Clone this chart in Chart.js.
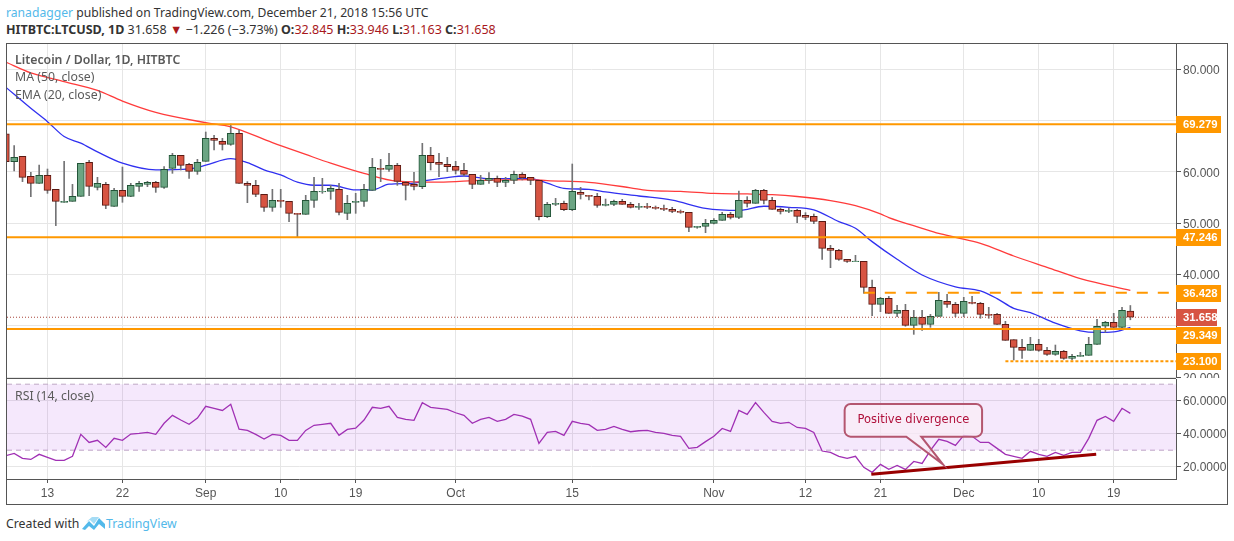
<!DOCTYPE html>
<html>
  <head>
    <meta charset="UTF-8" />
    <title>LTCUSD</title>
    <script src="https://cdn.jsdelivr.net/npm/chart.js"></script>
    <style type="text/css">
      html, body { margin:0; padding:0; background:#fff; width:1234px; height:541px; overflow:hidden; font-family:"Noto Sans",sans-serif; }
      .abs { position:absolute; white-space:nowrap; }
      #frame { position:absolute; left:6px; top:43px; width:1220px; height:460px; border:1px solid #555; }
      canvas { position:absolute; }
      #pricePane { left:7px; top:44px; }
      #rsiPane { left:7px; top:379px; }
      .legend { left:15px; font-size:12.3px; color:#5a5a5a; line-height:16px; }
      .blue { color:#53b9ea; }
      .red { color:#a8181c; }
    </style>
  </head>
  <body>
    <div id="frame"></div>
    <canvas id="pricePane"></canvas>
    <canvas id="rsiPane"></canvas>

    <div class="abs" style="left:6px;top:4px;font-size:12.17px;color:#333;line-height:17px"><span class="blue">ranadagger</span> published on TradingView.com, December 21, 2018 15:56 UTC</div>
    <div class="abs" style="left:6px;top:21px;font-size:12.5px;color:#333;line-height:17px"><b>HITBTC:LTCUSD, 1D</b> 31.658 <span class="red">&#9660;</span> &minus;1.226 (&minus;3.73%) <b>O:</b><span class="red">32.845</span> <b>H:</b><span class="red">33.946</span> <b>L:</b><span class="red">31.163</span> <b>C:</b><span class="red">31.658</span></div>
    <div class="abs legend" style="top:52px;font-weight:600">Litecoin / Dollar, 1D, HITBTC</div>
    <div class="abs legend" style="top:69px">MA (50, close)</div>
    <div class="abs legend" style="top:87px">EMA (20, close)</div>
    <div class="abs legend" style="top:388px">RSI (14, close)</div>
    <div class="abs" style="left:6px;top:515px;font-size:12.3px;color:#333;line-height:17px">Created with</div>
    <svg class="abs" style="left:82px;top:516px" width="24" height="15" viewBox="0 0 24 15">
      <path d="M0 13 L7 5 L12 10 L17 2 L23 8 L23 13 L17 8 L12 14 L7 10 L3 14 Z" fill="#53b9ea"/>
      <path d="M4 6 L10 1 L17 1 L12 8 L8 4 Z" fill="#a5dcf5"/>
    </svg>
    <div class="abs blue" style="left:106px;top:515px;font-size:12.3px;line-height:17px">TradingView</div>

    <script>
      // one entry per day, day 0 is Aug 8 2018
      var opens = [67.4,62.0,63.03,59.14,57.77,59.33,56.6,54.07,54.26,55.23,
        61.87,56.99,57.57,53.29,56.41,55.23,57.18,57.57,57.96,56.99,
        60.69,63.23,61.48,60.11,62.06,66.55,65.96,65.37,67.52,57.77,
        57.38,55.62,53.09,54.45,54.26,51.92,51.72,54.45,56.08,56.21,
        56.6,51.92,54.07,54.26,56.41,60.69,60.5,61.28,57.96,57.57,
        57.12,63.23,61.87,61.47,61.08,60.3,59.52,57.57,58.36,58.75,
        57.96,58.36,59.52,58.94,58.36,51.27,53.67,53.87,52.63,56.01,
        55.43,55.23,53.48,53.67,54.26,53.67,53.09,53.28,53.09,52.9,
        52.7,52.31,52.12,49.19,49.38,49.97,50.55,51.72,51.14,54.45,
        53.87,56.4,54.45,52.7,52.31,52.5,51.53,51.33,50.36,45.1,
        44.7,42.95,42.5,42.56,37.49,34.18,35.34,32.42,33.0,30.08,
        31.64,30.27,31.83,34.76,34.18,32.42,34.56,34.37,32.22,32.22,
        30.27,27.28,25.79,25.2,26.37,25.2,24.42,25.01,23.65,24.04,
        24.23,26.37,29.9,30.66,29.69,32.845];
      var closes = [62.0,62.84,58.94,57.77,59.33,56.41,54.26,54.26,55.23,61.67,
        57.18,57.77,53.48,56.41,55.23,57.38,57.77,57.96,56.99,60.5,
        63.23,61.28,60.11,61.87,66.55,66.16,65.37,67.52,57.77,57.38,
        55.62,53.09,54.45,54.26,51.92,51.72,54.45,56.21,56.21,56.8,
        52.12,53.87,54.26,56.6,60.89,60.5,61.28,58.16,57.38,57.18,
        63.23,61.8,61.47,61.02,60.3,59.52,57.57,58.36,58.75,57.96,
        58.36,59.52,58.81,58.36,51.27,53.67,53.87,52.63,56.21,55.62,
        55.23,53.48,53.67,54.26,53.67,53.09,53.28,53.09,52.9,52.7,
        52.31,52.12,49.19,49.38,49.97,50.55,51.72,51.14,54.45,53.87,
        56.4,54.45,52.7,52.31,52.5,51.33,51.14,50.36,45.1,44.7,
        42.95,42.56,42.6,37.49,34.18,35.34,32.42,33.0,30.08,31.64,
        30.27,31.83,34.95,34.18,32.42,34.76,34.37,32.22,32.03,30.27,
        27.15,25.79,25.2,26.37,25.2,24.42,25.01,23.65,24.04,24.23,
        26.37,29.9,30.66,29.69,33.0,31.658];
      var highs = [67.4,65.11,63.03,59.92,61.35,60.56,56.6,62.06,57.57,61.67,
        62.25,58.94,57.96,56.8,60.95,57.77,58.16,58.16,58.16,61.02,
        63.62,63.23,61.67,62.45,67.78,67.13,66.55,69.34,68.17,58.1,
        58.36,55.62,56.6,56.6,54.26,51.92,55.43,58.94,58.75,57.38,
        57.77,55.43,55.82,57.57,62.64,62.45,63.62,61.67,58.16,59.92,
        65.57,64.79,63.62,62.84,62.06,61.67,59.52,59.33,59.85,59.2,
        58.94,60.17,59.85,58.94,58.36,54.06,54.84,54.32,61.54,56.99,
        55.43,55.82,54.71,54.52,54.65,54.06,53.87,53.87,53.35,53.54,
        53.09,52.57,52.12,49.38,50.75,50.88,52.12,52.12,56.27,55.17,
        56.6,56.6,55.04,52.96,52.96,52.7,52.05,51.79,50.36,45.68,
        44.9,42.95,43.73,42.56,38.92,35.54,35.73,33.98,34.18,33.0,
        33.0,32.22,36.51,36.12,34.56,35.54,35.73,34.56,33.59,32.42,
        30.86,27.28,27.35,27.74,27.35,25.79,26.24,25.2,24.42,24.82,
        27.74,31.25,30.86,32.42,33.59,33.946];
      var lows = [62.0,60.18,58.1,55.17,57.77,55.82,49.52,54.07,54.26,55.23,
        55.36,56.47,52.83,53.29,54.07,55.17,56.21,57.12,56.01,56.8,
        59.72,60.37,58.75,59.52,62.06,64.27,64.27,65.18,57.77,54.0,
        55.17,52.31,52.31,53.09,50.3,47.3,51.72,53.09,55.82,54.65,
        51.6,50.69,51.92,53.29,56.41,58.1,60.11,57.38,54.52,56.47,
        56.73,60.37,59.07,60.05,59.59,59.2,56.73,57.57,57.77,57.12,
        57.12,57.7,58.42,57.51,50.62,51.08,53.42,52.44,52.44,54.71,
        54.52,53.09,53.35,53.42,53.67,52.96,52.7,52.83,52.7,52.44,
        52.05,51.92,48.35,49.0,48.15,49.84,50.55,50.82,50.88,53.15,
        53.87,53.74,52.7,51.79,52.05,50.1,50.68,49.9,42.95,41.32,
        42.75,42.36,42.5,36.32,31.96,32.74,32.42,31.77,29.9,28.32,
        29.1,29.69,31.83,33.59,31.77,31.77,34.24,31.45,31.45,30.27,
        27.15,23.32,23.65,25.2,25.01,24.23,24.23,23.45,23.32,24.04,
        24.23,26.37,28.71,29.69,29.4,31.163];

      // moving averages at these days
      var maDays = [0,3,7,11,14,18,24,27,32,36,39,43,47,52,57,63,65,70,75,77,81,85,89,92,95,99,102,105,106,110,112,114,117,121,125,129,135];
      var maValues = [81.4,79.3,77.6,75.9,73.8,71.6,69.6,68.8,65.7,63.4,61.7,59.7,58.2,58.0,58.36,58.5,58.3,57.96,56.9,56.4,56.2,55.8,55.7,55.56,55.2,54.4,53.4,51.8,51.1,49.0,48.0,47.24,46.07,43.6,41.4,39.2,36.9];
      var emaDays = [0,3,5,7,9,11,14,18,22,24,27,29,31,33,35,37,39,42,44,46,49,50,53,55,58,63,65,67,70,72,76,80,84,88,91,94,97,100,102,104,107,110,114,117,119,121,123,126,129,131,133,135];
      var emaValues = [76.5,72.4,69.8,66.9,65.6,63.9,61.7,60.4,60.6,61.3,62.6,61.8,60.4,59.4,58.0,57.4,57.4,56.5,56.5,57.6,57.8,58.2,58.9,59.2,58.7,58.7,57.8,56.8,56.6,56.1,55.3,54.5,52.9,52.5,53.3,53.1,52.6,50.3,49.0,46.4,42.95,39.9,37.6,36.8,35.3,33.4,32.55,30.5,29.0,28.7,28.8,29.7];

      var rsiValues = [26.7,28.1,25.1,24.4,27.5,25.7,23.8,23.8,26.3,39.6,
        34.7,36.0,31.7,37.2,36.0,39.8,40.2,40.8,39.6,46.3,
        51.1,48.3,45.7,49.5,56.6,55.4,54.1,57.8,42.8,42.0,
        39.6,36.8,39.6,39.0,36.0,36.0,42.0,45.1,45.7,46.3,
        39.0,42.6,43.4,48.3,56.0,55.4,56.6,49.9,48.7,48.1,
        58.8,56.0,55.4,54.7,52.7,51.1,46.3,48.7,49.9,47.5,
        48.7,51.7,50.7,48.7,34.1,40.8,41.4,39.0,47.5,46.3,
        45.5,42.0,42.6,44.4,42.6,41.2,41.8,42.0,40.8,40.2,
        39.0,38.4,31.1,31.7,35.2,38.4,43.2,41.4,54.1,51.7,
        58.8,52.9,47.5,46.3,46.9,43.8,43.2,40.8,29.5,28.7,
        26.3,25.1,26.3,19.6,16.6,21.4,18.4,20.8,18.4,23.2,
        22.0,29.9,36.6,35.4,32.9,39.0,38.4,34.7,34.7,31.1,
        27.5,26.3,25.1,29.3,27.5,26.3,28.7,26.9,28.7,28.7,
        37.2,48.1,50.5,47.5,55.4,52.3];

      var tickDays = [5,14,24,33,42,54,68,85,96,105,115,124,133];
      var tickLabels = ["13","22","Sep","10","19","Oct","15","Nov","12","21","Dec","10","19"];
      var priceTicks = [80,70,60,50,40,30,20];
      var priceTickLabels = ["80.000","","60.000","50.000","40.000","","20.000"];
      var rsiTicks = [60,40,20];
      var rsiTickLabels = ["60.0000","40.0000","20.0000"];

      var lastPrice = 31.658;
      var resistanceTop = 69.279, supportMid = 47.246, dashedLevel = 36.428, supportLow = 29.349, dottedLevel = 23.1;
      var dashedFromDay = 103, dottedFromDay = 120;
      var rsiUpper = 70, rsiLower = 30;
      var trendDays = [103.9,130.9], trendValues = [15.4,27.5];
      var calloutText = "Positive divergence";
      var calloutDays = [100.7,117.2], calloutValues = [58,38.2];
      var calloutTail = [108.1,109.9], calloutTip = [112.5,21.4];

      var xMin = 0.14, xMax = 140.48;
      var gridColor = "#e6e6e6", axisColor = "#555";
      var tickFont = { family:"Liberation Sans", size:12 };

      Chart.defaults.animation = false;
      Chart.defaults.devicePixelRatio = 1;

      function level(value, fromDay, color, width, dash) {
        return {
          type:"line", data:[{x:fromDay,y:value},{x:xMax,y:value}],
          borderColor:color, borderWidth:width, borderDash:dash || [],
          pointRadius:0, order:0
        };
      }
      function pairs(days, values) {
        return days.map(function(d, i){ return {x:d, y:values[i]}; });
      }
      // no label margins, so the plot fills the pane exactly
      function noPadding(s) {
        s.paddingTop = 0; s.paddingBottom = 0; s.paddingLeft = 0; s.paddingRight = 0;
      }
      function xAxis(showLabels) {
        return {
          type:"linear", min:xMin, max:xMax, offset:false,
          afterBuildTicks:function(s){ s.ticks = tickDays.map(function(d){ return {value:d}; }); },
          afterFit:function(s){ s.height = showLabels ? 25 : 0; noPadding(s); },
          border:{ display:showLabels, color:axisColor },
          grid:{ color:gridColor, offset:false, drawTicks:showLabels, tickLength:4, tickColor:axisColor },
          ticks:{ display:showLabels, autoSkip:false, maxRotation:0, padding:3, color:axisColor,
            font:tickFont,
            callback:function(v){ return tickLabels[tickDays.indexOf(v)]; } }
        };
      }
      function yAxis(min, max, values, labels, shift) {
        return {
          position:"right", min:min, max:max,
          afterBuildTicks:function(s){ s.ticks = values.map(function(v){ return {value:v}; }); },
          afterFit:function(s){ s.width = 51; noPadding(s); },
          border:{ color:axisColor },
          grid:{ color:gridColor, tickLength:5, tickColor:axisColor },
          ticks:{ padding:2, color:axisColor, font:tickFont, autoSkip:false, labelOffset:shift,
            callback:function(v){ return labels[values.indexOf(v)]; } }
        };
      }

      // price labels sitting on the right axis
      var badges = {
        id:"badges",
        afterDraw:function(chart){
          var y = chart.scales.y, ctx = chart.ctx, left = chart.chartArea.right;
          var list = [
            {v:supportLow, c:"#ff9800", w:45, shift:6},
            {v:resistanceTop, c:"#ff9800", w:45, shift:0},
            {v:supportMid, c:"#ff9800", w:45, shift:0},
            {v:dashedLevel, c:"#ff9800", w:45, shift:0},
            {v:dottedLevel, c:"#ff9800", w:45, shift:0},
            {v:lastPrice, c:"#d75442", w:41, shift:0}
          ];
          ctx.save();
          ctx.font = "bold 11.3px 'Liberation Sans'";
          ctx.textBaseline = "middle";
          list.forEach(function(b){
            var py = Math.round(y.getPixelForValue(b.v)) + b.shift;
            ctx.fillStyle = b.c;
            ctx.fillRect(left, py - 8, b.w, 17);
            ctx.fillStyle = "#fff";
            ctx.fillText(b.v.toFixed(3), left + 7, py + 1);
          });
          ctx.restore();
        }
      };

      // the speech bubble over the RSI pane
      var callout = {
        id:"callout",
        afterDatasetsDraw:function(chart){
          var x = chart.scales.x, y = chart.scales.y, ctx = chart.ctx;
          var l = x.getPixelForValue(calloutDays[0]), r = x.getPixelForValue(calloutDays[1]);
          var t = y.getPixelForValue(calloutValues[0]), b = y.getPixelForValue(calloutValues[1]);
          var a = x.getPixelForValue(calloutTail[0]), c = x.getPixelForValue(calloutTail[1]);
          var tx = x.getPixelForValue(calloutTip[0]), ty = y.getPixelForValue(calloutTip[1]);
          var rad = 6;
          ctx.save();
          ctx.beginPath();
          ctx.moveTo(l + rad, t);
          ctx.arcTo(r, t, r, b, rad);
          ctx.arcTo(r, b, l, b, rad);
          ctx.lineTo(c, b);
          ctx.lineTo(tx, ty);
          ctx.lineTo(a, b);
          ctx.arcTo(l, b, l, t, rad);
          ctx.arcTo(l, t, r, t, rad);
          ctx.closePath();
          ctx.fillStyle = "rgba(250,236,245,0.75)";
          ctx.fill();
          ctx.strokeStyle = "#b4566f";
          ctx.lineWidth = 2;
          ctx.stroke();
          ctx.fillStyle = "#b0103a";
          ctx.font = "11.5px 'DejaVu Sans'";
          ctx.textAlign = "center";
          ctx.textBaseline = "middle";
          ctx.fillText(calloutText, (l + r) / 2, (t + b) / 2);
          ctx.restore();
        }
      };

      var pricePane = document.getElementById("pricePane");
      pricePane.width = 1220; pricePane.height = 334;
      var days = opens.map(function(o, i){ return i; });

      new Chart(pricePane, {
        type:"bar",
        data:{ datasets:[
          level(resistanceTop, xMin, "#ff9800", 2),
          level(supportMid, xMin, "#ff9800", 2),
          level(supportLow, xMin, "#ff9800", 2),
          level(dashedLevel, dashedFromDay, "#ff9800", 2, [11,10]),
          level(dottedLevel, dottedFromDay, "#ff9800", 2, [3,2]),
          level(lastPrice, xMin, "#a8443a", 1, [1,2]),
          { data:days.map(function(i){ return {x:i, y:[opens[i],closes[i]]}; }),
            backgroundColor:days.map(function(i){ return closes[i] >= opens[i] ? "#6ba583" : "#d75442"; }),
            borderColor:days.map(function(i){ return closes[i] >= opens[i] ? "#225437" : "#5b1a13"; }),
            borderWidth:1, borderSkipped:false, grouped:false, barPercentage:1, categoryPercentage:1, maxBarThickness:7, order:1 },
          { data:days.map(function(i){ return {x:i, y:[lows[i],highs[i]]}; }),
            backgroundColor:"#737375", grouped:false, barPercentage:1, categoryPercentage:1, maxBarThickness:1, order:2 },
          { type:"line", data:pairs(maDays, maValues), borderColor:"#ff3b3b", borderWidth:1.3, pointRadius:0, cubicInterpolationMode:"monotone", order:3 },
          { type:"line", data:pairs(emaDays, emaValues), borderColor:"#3030f0", borderWidth:1.3, pointRadius:0, cubicInterpolationMode:"monotone", order:3 }
        ]},
        options:{
          responsive:false, layout:{ padding:0 },
          plugins:{ legend:{ display:false }, tooltip:{ enabled:false } },
          scales:{ x:xAxis(false), y:yAxis(19.81, 84.94, priceTicks, priceTickLabels, 1.5) }
        },
        plugins:[badges]
      });

      var rsiPane = document.getElementById("rsiPane");
      rsiPane.width = 1220; rsiPane.height = 125;

      new Chart(rsiPane, {
        type:"line",
        data:{ datasets:[
          { data:[{x:xMin,y:rsiUpper},{x:xMax,y:rsiUpper}], borderColor:"#bfa8c6", borderWidth:1, borderDash:[5,4],
            pointRadius:0, fill:{ value:rsiLower }, backgroundColor:"rgba(156,39,226,0.105)", order:3 },
          { data:[{x:xMin,y:rsiLower},{x:xMax,y:rsiLower}], borderColor:"#bfa8c6", borderWidth:1, borderDash:[5,4], pointRadius:0, order:3 },
          { data:days.map(function(i){ return {x:i, y:rsiValues[i]}; }), borderColor:"#a030b4", borderWidth:1.3, pointRadius:0, order:2 },
          { data:pairs(trendDays, trendValues), borderColor:"#990000", borderWidth:3, pointRadius:0, order:1 }
        ]},
        options:{
          responsive:false, layout:{ padding:0 },
          plugins:{ legend:{ display:false }, tooltip:{ enabled:false } },
          scales:{ x:xAxis(true), y:yAxis(12.55, 73.15, rsiTicks, rsiTickLabels, 1) }
        },
        plugins:[callout]
      });

      // dark line between the two panes
      var sep = document.createElement("div");
      sep.style.cssText = "position:absolute;left:7px;top:378px;width:1169px;height:1px;background:#555";
      document.body.appendChild(sep);
    </script>
  </body>
</html>
